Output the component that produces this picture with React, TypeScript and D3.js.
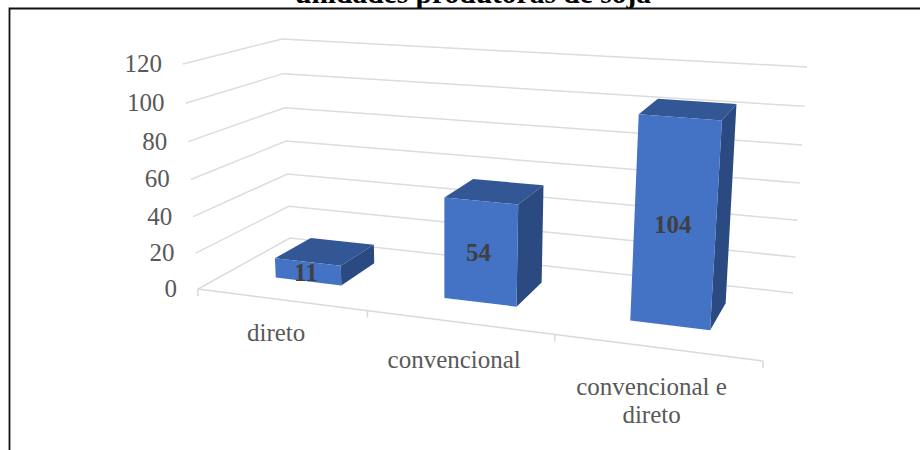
import React from "react";
import * as d3 from "d3";

const categories = [["direto"], ["convencional"], ["convencional e", "direto"]];
const values = [11, 54, 104];
const valueTicks = [0, 20, 40, 60, 80, 100, 120];
const titleText = "unidades produtoras de soja";

type P = [number, number];
// Perspective frame of the 3D plot: floor corners FL, FR, BR, BL
const floorQuad: P[] = [[198, 289], [763, 361], [793, 293], [290, 238]];
// The same corners at the axis maximum
const topQuad: P[] = [[183, 64], [781, 105], [807, 67], [282, 39]];
const verticalFore = 0.949;
const categoryLabelDrop = [41, 46, 48];

function homography(q: P[]) {
  const [[x0, y0], [x1, y1], [x2, y2], [x3, y3]] = q;
  const dx1 = x1 - x2, dx2 = x3 - x2, sx = x0 - x1 + x2 - x3;
  const dy1 = y1 - y2, dy2 = y3 - y2, sy = y0 - y1 + y2 - y3;
  const det = dx1 * dy2 - dx2 * dy1;
  const g = (sx * dy2 - dx2 * sy) / det;
  const h = (dx1 * sy - sx * dy1) / det;
  const a = x1 - x0 + g * x1, b = x3 - x0 + h * x3;
  const d = y1 - y0 + g * y1, e = y3 - y0 + h * y3;
  return (s: number, t: number): P => {
    const w = g * s + h * t + 1;
    return [(a * s + b * t + x0) / w, (d * s + e * t + y0) / w];
  };
}
const floorH = homography(floorQuad);
const lifts: P[] = topQuad.map((p, i) => [p[0] - floorQuad[i][0], p[1] - floorQuad[i][1]]);
const lift = (s: number, t: number, c: 0 | 1) =>
  lifts[0][c] * (1 - s) * (1 - t) + lifts[1][c] * s * (1 - t) + lifts[2][c] * s * t + lifts[3][c] * (1 - s) * t;
const hScale = d3.scaleLinear().domain([0, 120]).range([0, 1]);
const sScale = d3.scaleLinear().domain([0, 3]).range([0, 1]);
const project = (s: number, t: number, v: number): P => {
  const [x, y] = floorH(s, t);
  const u = hScale(v);
  const k = (verticalFore * u) / (1 + (verticalFore - 1) * u);
  return [x + lift(s, t, 0) * k, y + lift(s, t, 1) * k];
};
const line = d3.line<P>();
const poly = (pts: P[]) => line(pts)! + "Z";

const barHalf = 0.2;
const barOffset = -0.005;
const tFront = 0.31;
const tBack = 0.72;
const serif = "'Liberation Serif', 'Times New Roman', serif";

export default function App() {
  return (
    <svg width={920} height={450} viewBox="0 0 920 450"
      style={{ position: "absolute", left: 0, top: 0, background: "#fff" }}>
      <text x={473} y={3} textAnchor="middle" fontFamily={serif} fontWeight="bold" fontSize={29.5} fill="#000">{titleText}</text>
      <path d="M9.5,450V8.5H920" fill="none" stroke="#111" strokeWidth={1.8} />
      {valueTicks.map((v) => {
        const p = project(0, 0, v);
        return (
          <g key={v}>
            <path d={line([p, project(0, 1, v), project(1, 1, v)])!} fill="none" stroke="#dcdcdc" strokeWidth={1.5} />
            <text x={p[0] - 21} y={p[1] + 8} textAnchor="end" fontFamily={serif} fontSize={25} fill="#595959">{v}</text>
          </g>
        );
      })}
      <path d={line([project(0, 0, 0), project(1, 0, 0)])!} fill="none" stroke="#d9d9d9" strokeWidth={1.5} />
      {d3.range(0, 4).map((i) => {
        const p = project(sScale(i), 0, 0);
        return <path key={i} d={line([p, [p[0], p[1] + 7]])!} stroke="#d9d9d9" strokeWidth={1.5} />;
      })}
      {values.map((v, i) => {
        const s0 = sScale(i + 0.5 + barOffset - barHalf), s1 = sScale(i + 0.5 + barOffset + barHalf);
        const c = (s0 + s1) / 2;
        const lab = project(c, tFront, v / 2);
        return (
          <g key={i}>
            <path d={poly([project(s0, tFront, v), project(s1, tFront, v), project(s1, tBack, v), project(s0, tBack, v)])} fill="#335795" />
            <path d={poly([project(s1, tFront, 0), project(s1, tBack, 0), project(s1, tBack, v), project(s1, tFront, v)])} fill="#2b4a82" />
            <path d={poly([project(s0, tFront, 0), project(s1, tFront, 0), project(s1, tFront, v), project(s0, tFront, v)])} fill="#4472c4" />
            <text x={lab[0] - 2} y={lab[1] + 9} textAnchor="middle" fontFamily={serif} fontWeight="bold" fontSize={25} fill="#404040">{v}</text>
          </g>
        );
      })}
      {categories.map((lines, i) => {
        const p = project(sScale(i + 0.5), 0, 0);
        return (
          <text key={i} fontFamily={serif} fontSize={25} fill="#595959" textAnchor="middle">
            {lines.map((l, j) => (
              <tspan key={j} x={p[0] - 4.5} y={p[1] + categoryLabelDrop[i] + j * 28}>{l}</tspan>
            ))}
          </text>
        );
      })}
    </svg>
  );
}
